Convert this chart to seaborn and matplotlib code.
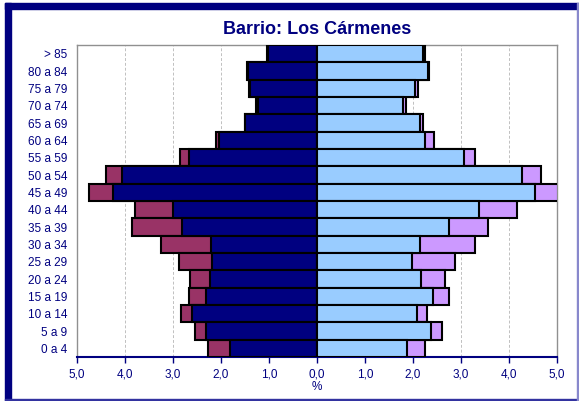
import matplotlib
matplotlib.use("Agg")
import matplotlib.pyplot as plt
import seaborn as sns
import pandas as pd
from matplotlib.patches import Rectangle

# age groups, top to bottom
ages = ['> 85', '80 a 84', '75 a 79', '70 a 74', '65 a 69', '60 a 64', '55 a 59',
        '50 a 54', '45 a 49', '40 a 44', '35 a 39', '30 a 34', '25 a 29',
        '20 a 24', '15 a 19', '10 a 14', '5 a 9', '0 a 4']

# men: barrio share (navy) and total incl. extra (maroon)
men_base = [1.03, 1.43, 1.40, 1.22, 1.49, 2.04, 2.67, 4.07, 4.26, 3.00, 2.81,
            2.21, 2.18, 2.22, 2.32, 2.61, 2.32, 1.82]
men_total = [1.05, 1.45, 1.42, 1.28, 1.51, 2.11, 2.85, 4.39, 4.76, 3.79, 3.86,
             3.26, 2.87, 2.65, 2.67, 2.84, 2.54, 2.28]

# women: barrio share (light blue) and total incl. extra (lilac)
women_base = [2.20, 2.32, 2.05, 1.79, 2.14, 2.25, 3.06, 4.27, 4.54, 3.37, 2.76,
              2.15, 1.97, 2.17, 2.41, 2.08, 2.38, 1.88]
women_total = [2.25, 2.34, 2.11, 1.86, 2.20, 2.43, 3.30, 4.66, 5.02, 4.16, 3.57,
               3.30, 2.87, 2.67, 2.76, 2.30, 2.60, 2.25]

xticks = [-5, -4, -3, -2, -1, 0, 1, 2, 3, 4, 5]
xtick_labels = ['5,0', '4,0', '3,0', '2,0', '1,0', '0,0', '1,0', '2,0', '3,0', '4,0', '5,0']

NAVY = '#000080'

df = pd.DataFrame({'age': ages,
                   'men_base': [-v for v in men_base],
                   'men_total': [-v for v in men_total],
                   'women_base': women_base,
                   'women_total': women_total})

sns.set_style('white')
plt.rcParams['font.family'] = ['Liberation Sans', 'DejaVu Sans']

fig = plt.figure(figsize=(5.79, 4.01), dpi=100)
ax = fig.add_axes([77 / 579, 1 - 357 / 401, 480 / 579, 312 / 401])

kw = dict(y='age', data=df, order=ages, orient='h', width=1.0,
          edgecolor='black', linewidth=1.5, ax=ax, zorder=3)
sns.barplot(x='men_total', color='#993366', saturation=1, **kw)
sns.barplot(x='men_base', color=NAVY, saturation=1, **kw)
sns.barplot(x='women_total', color='#CC99FF', saturation=1, **kw)
sns.barplot(x='women_base', color='#99CCFF', saturation=1, **kw)

ax.set_xlim(-5, 5)
ax.set_ylim(len(ages) - 0.5, -0.5)
ax.set_xticks(xticks)
ax.set_xticklabels(xtick_labels)
ax.xaxis.grid(True, color='#c0c0c0', linestyle=(0, (3, 2)), linewidth=0.7, zorder=0)
ax.set_axisbelow(True)

ax.tick_params(axis='x', colors=NAVY, labelcolor=NAVY, labelsize=8.5,
               direction='out', length=4, width=1, bottom=True, pad=4)
ax.tick_params(axis='y', colors=NAVY, labelcolor=NAVY, labelsize=8.5, length=0, pad=7)

for side in ['top', 'right', 'left']:
    ax.spines[side].set_color('#909090')
    ax.spines[side].set_linewidth(1)
ax.spines['bottom'].set_color(NAVY)
ax.spines['bottom'].set_linewidth(1.5)

ax.set_xlabel('%', color=NAVY, fontsize=8.5, labelpad=1)
ax.set_ylabel('')
ax.set_title('Barrio: Los Cármenes', color=NAVY, fontsize=13, fontweight='bold', pad=8)

# outer frame
W, H = 579, 401
fig.patches.append(Rectangle((5 / W, 0), 6 / W, 1 - 3 / H, transform=fig.transFigure,
                             color=NAVY, zorder=10))
fig.patches.append(Rectangle((5 / W, 1 - 9 / H), 1 - 5 / W, 6 / H, transform=fig.transFigure,
                             color=NAVY, zorder=10))
fig.patches.append(Rectangle((5 / W, 1 / H), 1 - 5 / W, 1.5 / H, transform=fig.transFigure,
                             color='#3333a0', zorder=10))
fig.patches.append(Rectangle((577 / W, 0), 1.2 / W, 1 - 3 / H, transform=fig.transFigure,
                             color='#8888cc', zorder=10))

fig.savefig('out.png', dpi=100)
